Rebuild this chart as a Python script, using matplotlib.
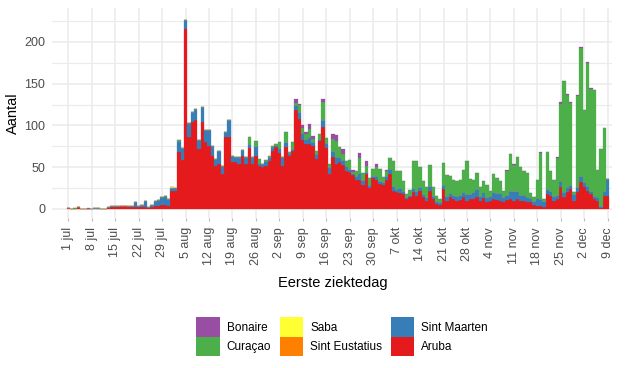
import matplotlib
matplotlib.use("Agg")
import matplotlib.pyplot as plt
import matplotlib.dates as mdates
from matplotlib.patches import Patch
from matplotlib.ticker import MultipleLocator
import numpy as np
import pandas as pd

plt.rcParams["font.family"] = ["Liberation Sans", "DejaVu Sans"]

# daily counts, 1 jul .. 9 dec (162 days)
START = "2020-07-01"
N_DAYS = 162

aruba = [
    1, 0, 0, 2, 0, 0, 0, 0, 0, 0,
    0, 0, 1, 2, 2, 2, 3, 3, 2, 2,
    2, 2, 2, 2, 1, 2, 3, 4, 5, 5,
    4, 22, 21, 68, 59, 216, 86, 104, 107, 72,
    104, 80, 76, 64, 51, 54, 42, 86, 86, 56,
    56, 54, 64, 54, 73, 54, 64, 51, 50, 52,
    58, 70, 74, 67, 52, 74, 64, 70, 118, 108,
    83, 78, 78, 76, 60, 82, 98, 73, 42, 62,
    54, 56, 53, 46, 44, 41, 35, 35, 29, 42,
    25, 37, 35, 30, 29, 35, 42, 22, 20, 19,
    18, 12, 14, 20, 16, 22, 14, 10, 22, 12,
    6, 5, 24, 10, 14, 12, 10, 11, 14, 10,
    12, 12, 14, 10, 13, 8, 10, 12, 11, 10,
    8, 11, 12, 10, 12, 9, 10, 8, 8, 5,
    3, 4, 2, 18, 16, 10, 12, 26, 14, 20,
    24, 10, 20, 32, 26, 22, 18, 12, 10, 1,
    16, 15,
]
sint_maarten = [
    0, 0, 0, 0, 0, 0, 0, 0, 1, 1,
    0, 0, 1, 2, 2, 2, 1, 1, 2, 2,
    6, 2, 3, 7, 1, 3, 6, 7, 9, 10,
    8, 3, 4, 13, 14, 10, 17, 12, 13, 11,
    18, 15, 18, 12, 9, 16, 10, 6, 20, 8,
    6, 8, 7, 8, 5, 8, 12, 4, 4, 5,
    4, 4, 3, 6, 10, 6, 3, 2, 6, 8,
    8, 6, 8, 4, 6, 2, 8, 6, 8, 8,
    8, 6, 6, 6, 4, 2, 4, 8, 6, 2,
    4, 3, 5, 4, 3, 4, 6, 6, 4, 6,
    4, 2, 3, 5, 6, 4, 4, 4, 5, 4,
    3, 3, 5, 6, 5, 5, 5, 6, 6, 8,
    6, 8, 10, 6, 7, 6, 5, 8, 8, 9,
    6, 6, 10, 12, 10, 8, 7, 6, 5, 5,
    10, 8, 8, 6, 6, 6, 5, 8, 6, 6,
    5, 8, 6, 8, 6, 5, 4, 4, 4, 2,
    5, 21,
]
sint_eustatius = [0] * 68 + [1] + [0] * 93
saba = [0] * 31 + [1] + [0] * 130
curacao = [
    0, 0, 1, 0, 0, 0, 0, 0, 0, 0,
    0, 0, 0, 0, 0, 0, 0, 0, 0, 0,
    0, 0, 0, 0, 0, 0, 0, 0, 0, 0,
    0, 0, 0, 2, 0, 0, 0, 0, 0, 0,
    0, 0, 0, 0, 0, 0, 0, 0, 0, 0,
    0, 0, 0, 0, 8, 0, 6, 5, 0, 2,
    2, 2, 1, 7, 0, 12, 1, 8, 2, 8,
    6, 6, 10, 4, 4, 6, 22, 6, 4, 14,
    20, 12, 7, 6, 11, 1, 6, 18, 8, 8,
    8, 8, 10, 14, 6, 6, 13, 29, 21, 20,
    11, 4, 6, 32, 35, 24, 15, 12, 26, 10,
    6, 4, 26, 25, 20, 18, 18, 18, 27, 40,
    18, 15, 19, 10, 13, 15, 6, 22, 18, 14,
    7, 29, 44, 31, 40, 33, 28, 29, 6, 4,
    22, 55, 2, 44, 23, 19, 44, 92, 133, 111,
    98, 2, 109, 153, 87, 148, 122, 126, 33, 69,
    76, 0,
]
bonaire = [0] * 162
for day, value in {6: 1, 68: 5, 69: 2, 70: 4, 71: 2, 72: 6, 73: 4, 76: 4,
                   79: 6, 80: 7, 82: 6, 85: 3, 87: 6, 89: 5, 92: 4, 95: 2,
                   131: 1, 133: 1, 141: 1, 146: 1, 147: 2, 149: 1, 150: 1,
                   152: 1, 153: 1, 155: 1, 156: 1}.items():
    bonaire[day] = value

# bottom to top
SERIES = [
    ("Aruba", aruba, "#E41A1C"),
    ("Sint Maarten", sint_maarten, "#377EB8"),
    ("Sint Eustatius", sint_eustatius, "#FF7F00"),
    ("Saba", saba, "#FFFF33"),
    ("Curaçao", curacao, "#4DAF4A"),
    ("Bonaire", bonaire, "#984EA3"),
]
LEGEND_ORDER = ["Bonaire", "Curaçao", "Saba", "Sint Eustatius", "Sint Maarten", "Aruba"]

tick_labels = [
    "1 jul", "8 jul", "15 jul", "22 jul", "29 jul", "5 aug", "12 aug", "19 aug",
    "26 aug", "2 sep", "9 sep", "16 sep", "23 sep", "30 sep", "7 okt", "14 okt",
    "21 okt", "28 okt", "4 nov", "11 nov", "18 nov", "25 nov", "2 dec", "9 dec",
]

dates = pd.date_range(START, periods=N_DAYS, freq="D")
tick_dates = pd.date_range(START, periods=len(tick_labels), freq="7D")

fig = plt.figure(figsize=(6.32, 3.68), dpi=100)
ax = fig.add_axes([52 / 632, 1 - 218 / 368, 560 / 632, 210 / 368])

bottom = np.zeros(N_DAYS)
for name, values, color in SERIES:
    values = np.asarray(values, dtype=float)
    ax.bar(dates, values, width=1.0, bottom=bottom, color=color,
           edgecolor=color, linewidth=0.2, align="center")
    bottom += values

day0 = mdates.date2num(dates[0])
ax.set_xlim(day0 - 4.87, day0 + 162.3)
ax.set_ylim(-10.8, 240.7)

ax.set_xticks(tick_dates)
ax.set_xticklabels(tick_labels, rotation=90, fontsize=9, color="#4D4D4D")
ax.yaxis.set_major_locator(MultipleLocator(50))
ax.yaxis.set_minor_locator(MultipleLocator(25))
ax.tick_params(axis="y", length=0, pad=5, labelsize=9, labelcolor="#4D4D4D")
ax.tick_params(axis="y", which="minor", length=0)
ax.tick_params(axis="x", length=2.5, width=0.8, color="#BBBBBB", pad=4)

ax.set_axisbelow(True)
ax.grid(True, which="major", color="#EBEBEB", linewidth=1.1)
ax.grid(True, which="minor", axis="y", color="#EBEBEB", linewidth=0.8)
for spine in ax.spines.values():
    spine.set_visible(False)

ax.set_ylabel("Aantal", fontsize=10.5, labelpad=3)
fig.text(333 / 632, 1 - 283 / 368, "Eerste ziektedag", fontsize=10.5,
         ha="center", va="center")

colors = {name: color for name, _, color in SERIES}
handles = [Patch(facecolor=colors[n], edgecolor="none", label=n) for n in LEGEND_ORDER]
fig.legend(handles=handles, loc="upper center", bbox_to_anchor=(342 / 632, 1 - 309 / 368),
           ncol=3, frameon=False, fontsize=8.5, handlelength=2.0, handleheight=2.15,
           handletextpad=0.6, labelspacing=0.0, columnspacing=0.7, borderpad=0.2)

fig.savefig("out.png", dpi=100)
